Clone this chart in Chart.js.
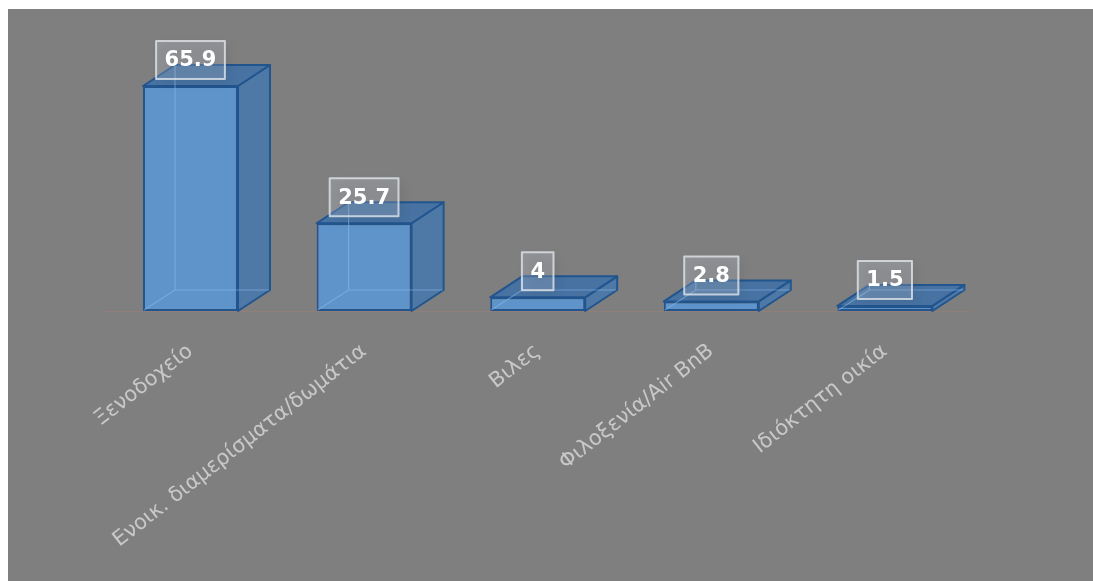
<!DOCTYPE html>
<html>
<head>
<meta charset="utf-8">
<script src="https://cdn.jsdelivr.net/npm/chart.js@4.4.1/dist/chart.umd.min.js"></script>
<style>
  html, body { margin: 0; padding: 0; background: #ffffff; }
  #frame { position: absolute; left: 8px; top: 9px; width: 1085px; height: 572px; background: #7f7f7f; }
  canvas { display: block; }
</style>
</head>
<body>
<div id="frame"><canvas id="c" width="1085" height="572"></canvas></div>
<script>
// Accommodation type shares (%)
const categories = ['Ξενοδοχείο', 'Ενοικ. διαμερίσματα/δωμάτια', 'Βιλες', 'Φιλοξενία/Air BnB', 'Ιδιόκτητη οικία'];
const shares = [65.9, 25.7, 4, 2.8, 1.5];
const yRange = [0, 80];

// Colours of the box-shaped bars
const FRONT = 'rgba(94,150,207,0.95)';
const SIDE = 'rgba(76,121,170,0.95)';
const TOP = 'rgba(66,113,164,0.92)';
const EDGE = '#22558e';
const INNER = 'rgba(135,185,235,0.55)';
const DEPTH_X = 32, DEPTH_Y = 21;

// Draws the top and side faces, hidden edges and value boxes of every bar
const cubePlugin = {
  id: 'cube',
  beforeDatasetsDraw(chart) {
    const ctx = chart.ctx;
    const area = chart.chartArea;
    const yb = chart.scales.y.getPixelForValue(0);
    ctx.save();
    ctx.strokeStyle = 'rgba(175,125,115,0.35)';
    ctx.lineWidth = 1;
    ctx.beginPath();
    ctx.moveTo(area.left, yb + 0.5);
    ctx.lineTo(area.right, yb + 0.5);
    ctx.stroke();
    ctx.restore();
  },
  afterDatasetsDraw(chart) {
    const ctx = chart.ctx;
    const meta = chart.getDatasetMeta(0);
    ctx.save();
    meta.data.forEach((bar) => {
      const p = bar.getProps(['x', 'y', 'base', 'width'], true);
      const l = p.x - p.width / 2, r = p.x + p.width / 2, t = p.y, b = p.base;
      ctx.lineJoin = 'round';
      ctx.lineWidth = 2;
      ctx.strokeStyle = EDGE;
      // side face
      ctx.fillStyle = SIDE;
      ctx.beginPath();
      ctx.moveTo(r, t); ctx.lineTo(r + DEPTH_X, t - DEPTH_Y);
      ctx.lineTo(r + DEPTH_X, b - DEPTH_Y); ctx.lineTo(r, b);
      ctx.closePath(); ctx.fill(); ctx.stroke();
      // top face
      ctx.fillStyle = TOP;
      ctx.beginPath();
      ctx.moveTo(l, t); ctx.lineTo(l + DEPTH_X, t - DEPTH_Y);
      ctx.lineTo(r + DEPTH_X, t - DEPTH_Y); ctx.lineTo(r, t);
      ctx.closePath(); ctx.fill(); ctx.stroke();
      // hidden back edges seen through the faces
      ctx.strokeStyle = INNER;
      ctx.lineWidth = 1.2;
      ctx.beginPath();
      ctx.moveTo(l + 1, b - 1); ctx.lineTo(l + DEPTH_X, b - DEPTH_Y);
      ctx.lineTo(r + DEPTH_X - 1, b - DEPTH_Y);
      ctx.moveTo(l + DEPTH_X, b - DEPTH_Y); ctx.lineTo(l + DEPTH_X, t - DEPTH_Y + 1);
      ctx.stroke();
    });
    // value boxes
    ctx.font = 'bold 21px "DejaVu Sans"';
    meta.data.forEach((bar, i) => {
      const p = bar.getProps(['x', 'y'], true);
      const text = String(shares[i]);
      const w = ctx.measureText(text).width + 17;
      const h = 38;
      const x0 = p.x - w / 2, y0 = p.y - 7 - h;
      ctx.save();
      ctx.shadowColor = 'rgba(0,0,0,0.3)';
      ctx.shadowBlur = 10;
      ctx.shadowOffsetX = 4;
      ctx.shadowOffsetY = 4;
      ctx.fillStyle = 'rgba(200,210,225,0.24)';
      ctx.fillRect(x0, y0, w, h);
      ctx.restore();
      ctx.strokeStyle = 'rgba(225,230,235,0.8)';
      ctx.lineWidth = 2;
      ctx.strokeRect(x0, y0, w, h);
      ctx.fillStyle = '#ffffff';
      ctx.textAlign = 'center';
      ctx.textBaseline = 'middle';
      ctx.fillText(text, p.x, y0 + h / 2 + 1);
    });
    ctx.restore();
  }
};

new Chart(document.getElementById('c'), {
  type: 'bar',
  data: {
    labels: categories,
    datasets: [{
      data: shares,
      backgroundColor: FRONT,
      borderColor: EDGE,
      borderWidth: 2,
      borderSkipped: false,
      categoryPercentage: 1,
      barPercentage: 0.547
    }]
  },
  options: {
    responsive: false,
    animation: false,
    layout: { padding: { left: 95.7, right: 121.3, top: 28.9, bottom: 0 } },
    plugins: { legend: { display: false }, tooltip: { enabled: false } },
    scales: {
      x: {
        grid: { display: false, drawTicks: false },
        border: { display: false },
        ticks: {
          color: '#c8c8c8',
          font: { family: 'DejaVu Sans', size: 21 },
          minRotation: 38,
          maxRotation: 38,
          autoSkip: false,
          padding: 28
        },
        afterFit(scale) { scale.height = 270; }
      },
      y: { display: false, min: yRange[0], max: yRange[1] }
    }
  },
  plugins: [cubePlugin]
});
</script>
</body>
</html>
